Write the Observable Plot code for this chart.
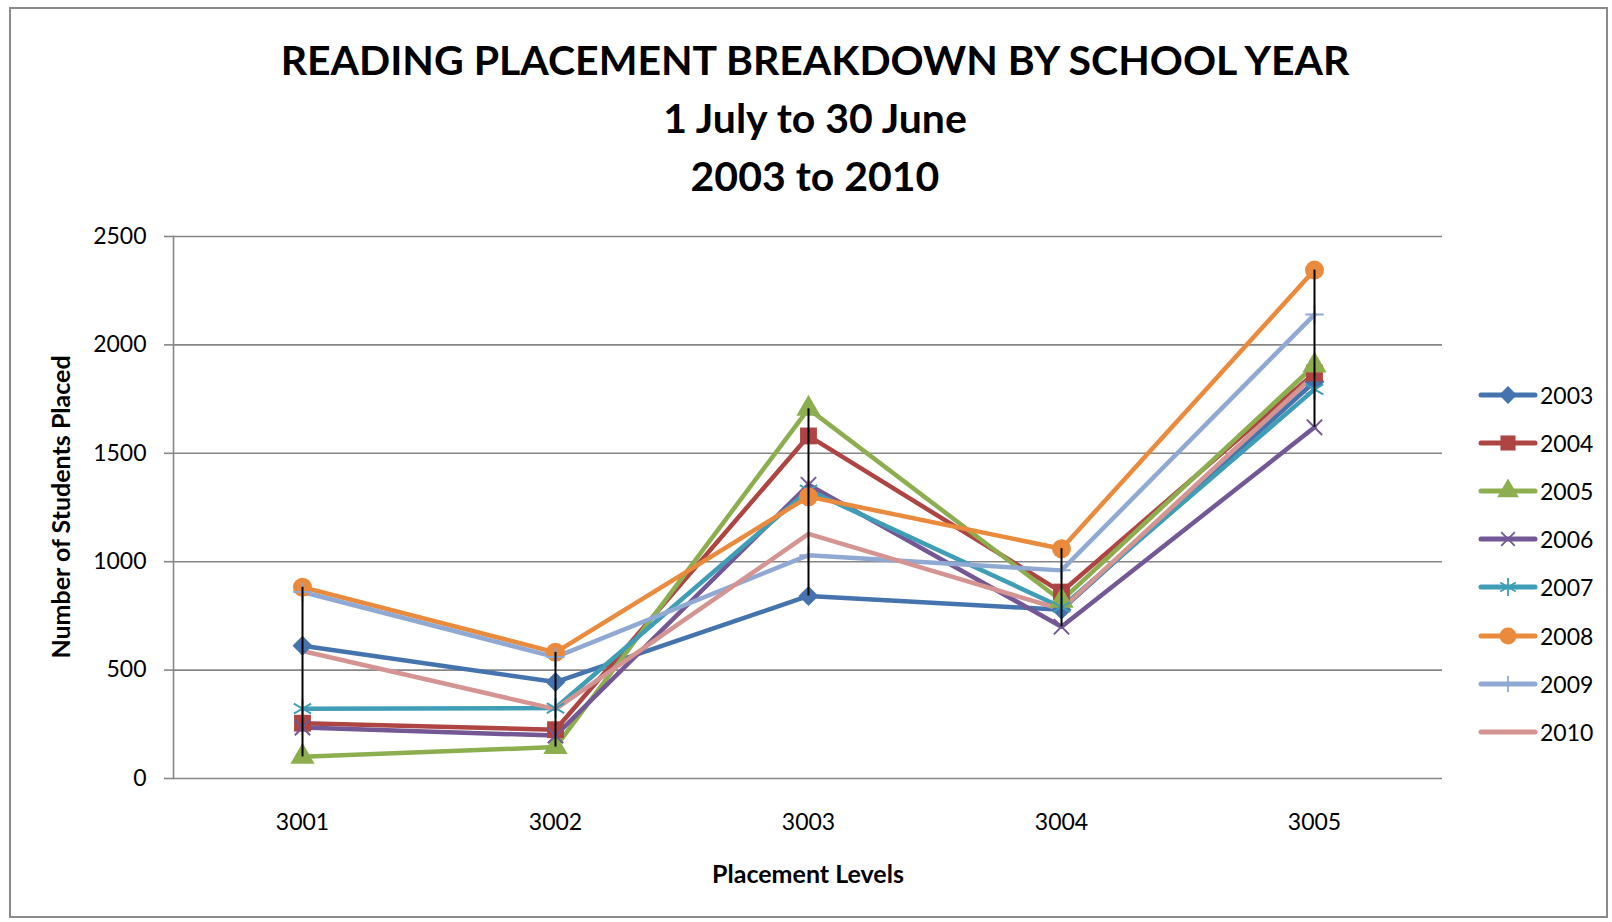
<!DOCTYPE html>
<html>
<head>
<meta charset="utf-8">
<script src="https://cdn.jsdelivr.net/npm/d3@7"></script>
<script src="https://cdn.jsdelivr.net/npm/@observablehq/plot@0.6"></script>
<style>
  html, body { margin: 0; padding: 0; background: #fff; }
  #wrap { position: relative; width: 1612px; height: 922px; font-family: Lato, "Open Sans", sans-serif; overflow: hidden; }
  #border { position: absolute; left: 9px; top: 7px; width: 1599px; height: 911px; border: 2px solid #8a8a8a; box-sizing: border-box; }
  #title { position: absolute; left: 15px; width: 1600px; top: 31px; text-align: center; font-weight: 700; font-size: 41px; line-height: 58px; color: #000; }
  #chart { position: absolute; left: 0; top: 0; }
  #ylabel { position: absolute; left: 60px; top: 507px; transform: translate(-50%, -50%) rotate(-90deg); font-weight: 700; font-size: 25px; white-space: nowrap; }
  #xlabel { position: absolute; left: 808px; top: 873px; transform: translate(-50%, -50%); font-weight: 700; font-size: 25px; white-space: nowrap; }
  #legend { position: absolute; left: 1478px; top: 371px; }
  .litem { display: flex; align-items: center; height: 48.1px; font-size: 23px; }
  .litem svg { display: block; margin-right: 2px; }
</style>
</head>
<body>
<div id="wrap">
  <div id="border"></div>
  <div id="title">READING PLACEMENT BREAKDOWN BY SCHOOL YEAR<br>1 July to 30 June<br>2003 to 2010</div>
  <div id="chart"></div>
  <div id="ylabel">Number of Students Placed</div>
  <div id="xlabel">Placement Levels</div>
  <div id="legend"></div>
</div>
<script>
// ---- Data ----
const levels = ["3001", "3002", "3003", "3004", "3005"];
const years = ["2003", "2004", "2005", "2006", "2007", "2008", "2009", "2010"];
const v2003 = [612, 445, 842, 778, 1830];
const v2004 = [255, 225, 1580, 860, 1870];
const v2005 = [100, 145, 1705, 820, 1905];
const v2006 = [235, 198, 1355, 700, 1620];
const v2007 = [322, 325, 1330, 790, 1795];
const v2008 = [882, 582, 1300, 1060, 2345];
const v2009 = [860, 560, 1030, 960, 2140];
const v2010 = [588, 320, 1128, 780, 1860];
const yTicks = [0, 500, 1000, 1500, 2000, 2500];

// ---- Styling ----
const colors = ["#4573AE", "#AE4543", "#8DAE4F", "#735895", "#409DB6", "#EA8A3C", "#8FA9D2", "#D49492"];
const symbolNames = ["diamond2", "square", "triangle", "times", "asterisk", "circle", "plus", null];
const d3Symbols = [d3.symbolDiamond2, d3.symbolSquare, d3.symbolTriangle, d3.symbolTimes, d3.symbolAsterisk, d3.symbolCircle, d3.symbolPlus, null];
const symbolR = [9, 9.5, 9, 7, 9.5, 9.5, 6, 0];
const filledSym = [true, true, true, false, false, true, false, false];

const series = [v2003, v2004, v2005, v2006, v2007, v2008, v2009, v2010];
const rows = [];
years.forEach((yr, i) => levels.forEach((lv, j) => rows.push({ year: yr, level: lv, value: series[i][j] })));

const symYears = years.filter((y, i) => symbolNames[i]);
const symRange = symbolNames.filter(s => s);

const hilo = levels.map(lv => {
  const vals = rows.filter(r => r.level === lv).map(r => r.value);
  return { level: lv, min: d3.min(vals), max: d3.max(vals) };
});

const dotMarks = years.map((yr, i) => {
  if (!symbolNames[i]) return null;
  const data = rows.filter(r => r.year === yr);
  return filledSym[i]
    ? Plot.dot(data, { x: "level", y: "value", symbol: "year", fill: "year", r: symbolR[i] })
    : Plot.dot(data, { x: "level", y: "value", symbol: "year", stroke: "year", fill: "none", strokeWidth: 2, r: symbolR[i] });
}).filter(Boolean);

const chart = Plot.plot({
  width: 1612,
  height: 922,
  marginLeft: 173,
  marginRight: 170,
  marginTop: 236,
  marginBottom: 144,
  style: { fontFamily: "Lato, 'Open Sans', sans-serif", color: "#000", background: "transparent" },
  x: { type: "point", domain: levels, padding: 0.5, align: 0.5, label: null },
  y: { domain: [0, 2500], label: null },
  color: { domain: years, range: colors },
  symbol: { domain: symYears, range: symRange },
  marks: [
    Plot.gridY(yTicks, { stroke: "#868686", strokeOpacity: 1, strokeWidth: 1.6 }),
    Plot.frame({ anchor: "left", stroke: "#868686", strokeWidth: 1.6 }),
    Plot.axisY(yTicks, { tickSize: 9, tickPadding: 18, fontSize: 23, tickFormat: d3.format("d"), stroke: "#868686", strokeWidth: 1.6, fill: "#000", label: null }),
    Plot.axisX({ tickSize: 0, tickPadding: 35, fontSize: 23, fill: "#000", label: null }),
    Plot.line(rows, { x: "level", y: "value", z: "year", stroke: "year", strokeWidth: 4.5, strokeLinejoin: "round", strokeLinecap: "round" }),
    ...dotMarks,
    Plot.ruleX(hilo, { x: "level", y1: "min", y2: "max", stroke: "#000", strokeWidth: 2 })
  ]
});
document.getElementById("chart").appendChild(chart);

// ---- Legend ----
const legend = d3.select("#legend");
years.forEach((yr, i) => {
  const item = legend.append("div").attr("class", "litem");
  const svg = item.append("svg").attr("width", 60).attr("height", 24);
  svg.append("line").attr("x1", 3).attr("x2", 57).attr("y1", 12).attr("y2", 12)
    .attr("stroke", colors[i]).attr("stroke-width", 5).attr("stroke-linecap", "round");
  if (d3Symbols[i]) {
    const p = d3.symbol(d3Symbols[i], Math.PI * symbolR[i] * symbolR[i] * 0.8)();
    const path = svg.append("path").attr("d", p).attr("transform", "translate(30,12)");
    if (filledSym[i]) path.attr("fill", colors[i]);
    else path.attr("fill", "none").attr("stroke", colors[i]).attr("stroke-width", 1.8);
  }
  item.append("span").text(yr);
});
</script>
</body>
</html>
